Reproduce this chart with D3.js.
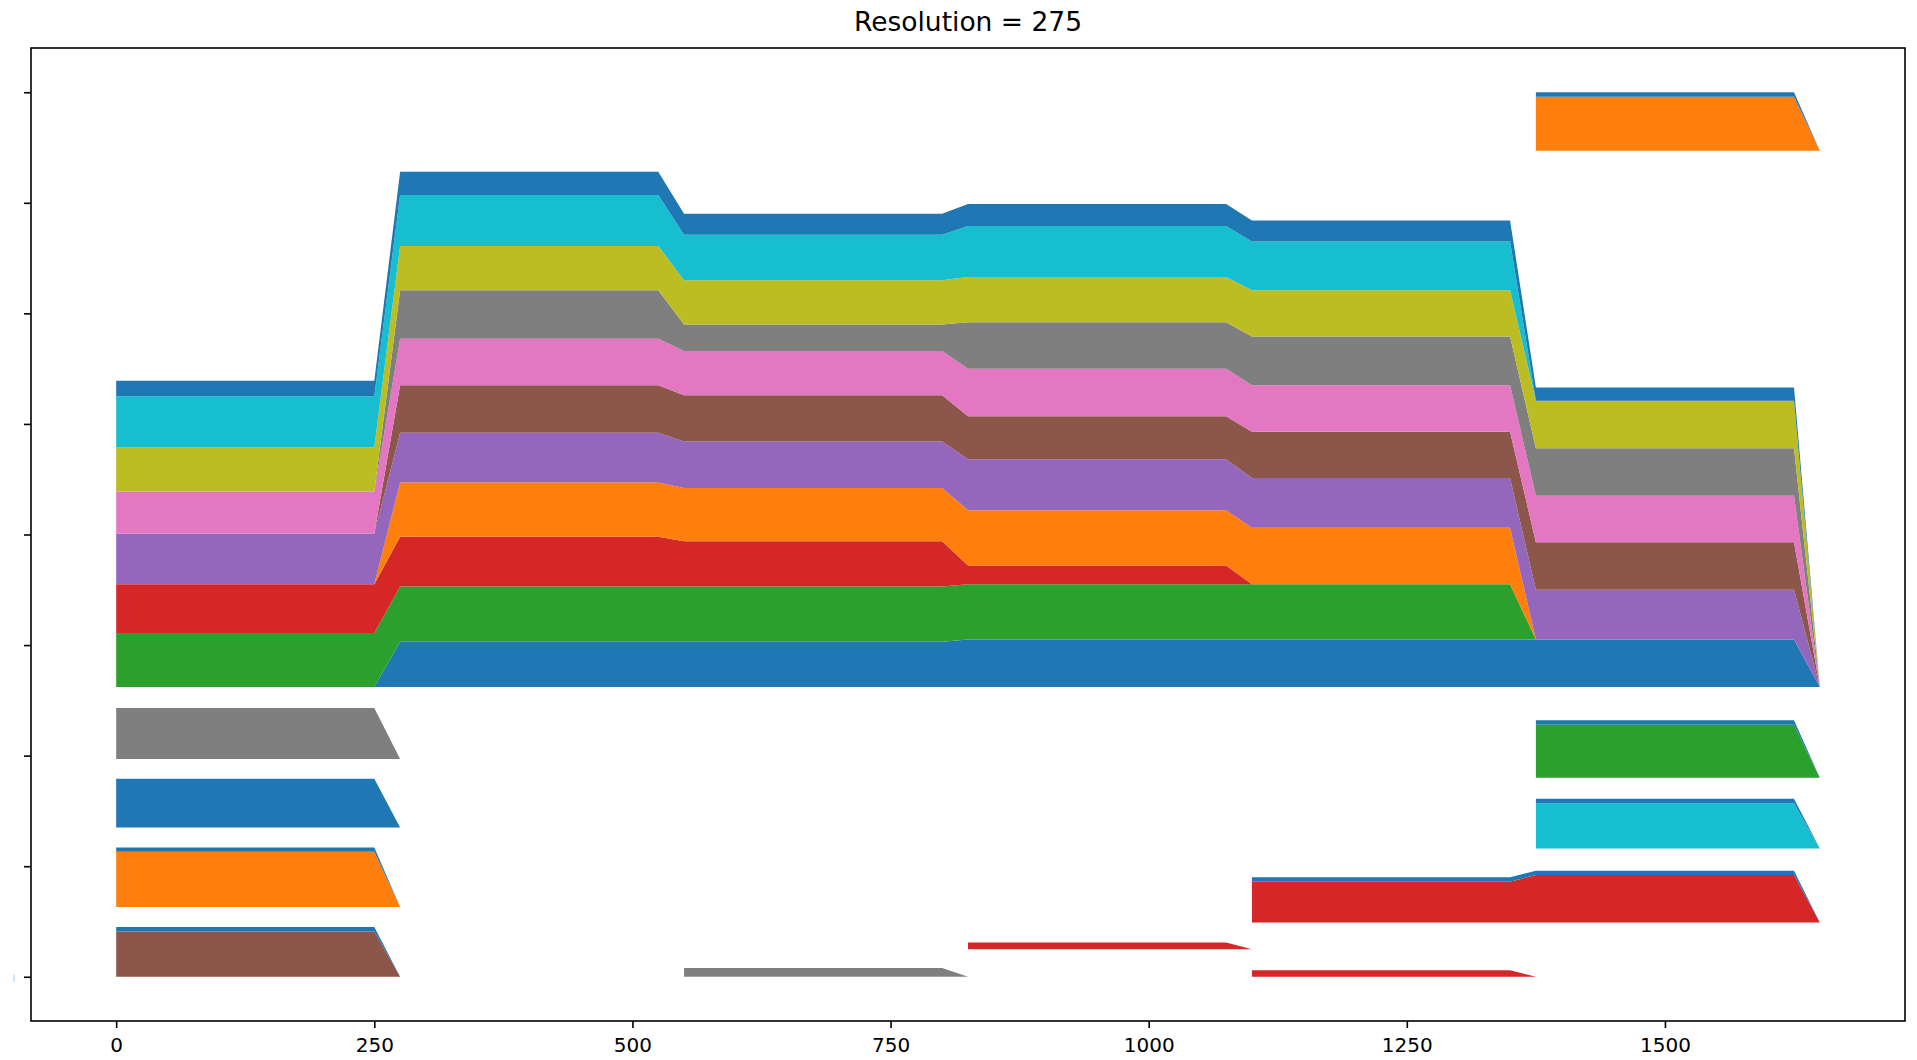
<!DOCTYPE html>
<html><head><meta charset="utf-8">
<script src="https://cdn.jsdelivr.net/npm/d3@7"></script>
<style>body{margin:0;background:#fff;} svg{display:block;}</style>
</head><body>
<svg id="chart" width="1917" height="1060"></svg>
<script>
// ---------- data ----------
const titleText = "Resolution = 275";
const xValues = [0, 250, 275, 525, 550, 800, 825, 1075, 1100, 1350, 1375, 1625, 1650];
const xTicks = [0, 250, 500, 750, 1000, 1250, 1500];
const yTicks = [0, 100, 200, 300, 400, 500, 600, 700, 800];
const yTickLabels = ["|", "", "", "", "", "", "", "", ""];

// main stack (baseline 262), bottom -> top
const mainBase = 262;
const mainBlue   = [0, 0, 41, 41, 41, 41, 43, 43, 43, 43, 43, 43, 0];
const mainGreen  = [49, 49, 50, 50, 50, 50, 50, 50, 50, 50, 0, 0, 0];
const mainRed    = [44, 44, 45, 45, 41, 41, 17, 17, 0, 0, 0, 0, 0];
const mainOrange = [0, 0, 49, 49, 48, 48, 50, 50, 51, 51, 0, 0, 0];
const mainPurple = [46, 46, 45, 45, 42, 42, 46, 46, 45, 45, 45, 45, 0];
const mainBrown  = [0, 0, 43, 43, 42, 42, 39, 39, 42, 42, 43, 43, 0];
const mainPink   = [38, 38, 42, 42, 40, 40, 43, 43, 42, 42, 42, 42, 0];
const mainGray   = [0, 0, 44, 44, 24, 24, 42, 42, 44, 44, 43, 43, 0];
const mainOlive  = [40, 40, 40, 40, 40, 40, 41, 41, 42, 42, 43, 43, 0];
const mainCyan   = [46, 46, 46, 46, 41, 41, 46, 46, 44, 44, 0, 0, 0];
const mainTop    = [14, 14, 21, 21, 19, 19, 20, 20, 19, 19, 12, 12, 0];

// small groups
const leftX = [0, 250, 275];
const leftBrownBase = 0;   const leftBrown = [41, 41, 0];  const leftBrownTop = [4, 4, 0];
const leftOrangeBase = 63; const leftOrange = [50, 50, 0]; const leftOrangeTop = [4, 4, 0];
const leftBlueBase = 135;  const leftBlue = [44, 44, 0];
const leftGrayBase = 197;  const leftGray = [46, 46, 0];

const midGrayX = [550, 800, 825];   const midGrayBase = 0;  const midGray = [8, 8, 0];
const midRedX = [825, 1075, 1100];  const midRedBase = 25;  const midRed = [6, 6, 0];
const lowRedX = [1100, 1350, 1375]; const lowRedBase = 0;   const lowRed = [6, 6, 0];

const redGroupX = [1100, 1350, 1375, 1625, 1650];
const redGroupBase = 49; const redGroup = [37, 37, 43, 43, 0]; const redGroupTop = [4, 4, 4, 4, 0];

const rightX = [1375, 1625, 1650];
const rightCyanBase = 116;   const rightCyan = [41, 41, 0];   const rightCyanTop = [4, 4, 0];
const rightGreenBase = 180;  const rightGreen = [48, 48, 0];  const rightGreenTop = [4, 4, 0];
const rightOrangeBase = 747; const rightOrange = [49, 49, 0]; const rightOrangeTop = [4, 4, 0];

// ---------- colours ----------
const C = ["#1f77b4","#ff7f0e","#2ca02c","#d62728","#9467bd","#8c564b","#e377c2","#7f7f7f","#bcbd22","#17becf"];

const groups = [
  {x: xValues, base: mainBase, layers: [
    [mainBlue, C[0]], [mainGreen, C[2]], [mainRed, C[3]], [mainOrange, C[1]], [mainPurple, C[4]],
    [mainBrown, C[5]], [mainPink, C[6]], [mainGray, C[7]], [mainOlive, C[8]], [mainCyan, C[9]], [mainTop, C[0]]]},
  {x: leftX, base: leftBrownBase, layers: [[leftBrown, C[5]], [leftBrownTop, C[0]]]},
  {x: leftX, base: leftOrangeBase, layers: [[leftOrange, C[1]], [leftOrangeTop, C[0]]]},
  {x: leftX, base: leftBlueBase, layers: [[leftBlue, C[0]]]},
  {x: leftX, base: leftGrayBase, layers: [[leftGray, C[7]]]},
  {x: midGrayX, base: midGrayBase, layers: [[midGray, C[7]]]},
  {x: midRedX, base: midRedBase, layers: [[midRed, C[3]]]},
  {x: lowRedX, base: lowRedBase, layers: [[lowRed, C[3]]]},
  {x: redGroupX, base: redGroupBase, layers: [[redGroup, C[3]], [redGroupTop, C[0]]]},
  {x: rightX, base: rightCyanBase, layers: [[rightCyan, C[9]], [rightCyanTop, C[0]]]},
  {x: rightX, base: rightGreenBase, layers: [[rightGreen, C[2]], [rightGreenTop, C[0]]]},
  {x: rightX, base: rightOrangeBase, layers: [[rightOrange, C[1]], [rightOrangeTop, C[0]]]},
];

// ---------- layout ----------
const L = 31, R = 1905, T = 48, B = 1021;
const xs = d3.scaleLinear().domain([-82.5, 1732.5]).range([L, R]);
const ys = d3.scaleLinear().domain([-40, 840]).range([B, T]);

const svg = d3.select("#chart");
const font = "'DejaVu Sans', sans-serif";

svg.append("defs").append("clipPath").attr("id","clip")
  .append("rect").attr("x", L).attr("y", T).attr("width", R - L).attr("height", B - T);

const plot = svg.append("g").attr("clip-path", "url(#clip)");

groups.forEach(g => {
  const cum = g.x.map(() => 0);
  g.layers.forEach(([vals, col]) => {
    const pts = g.x.map((xv, i) => {
      const lo = cum[i];
      const hi = cum[i] + vals[i];
      cum[i] = hi;
      return {x: xv, y0: g.base + lo, y1: g.base + hi};
    });
    const area = d3.area().x(d => xs(d.x)).y0(d => ys(d.y0)).y1(d => ys(d.y1));
    plot.append("path").attr("d", area(pts)).attr("fill", col).attr("stroke", "none");
  });
});

// axes
const xAxis = d3.axisBottom(xs).tickValues(xTicks).tickSize(7).tickPadding(10).tickFormat(d3.format("d"));
const gx = svg.append("g").attr("transform", `translate(0,${B})`).call(xAxis);
gx.select(".domain").remove();
gx.selectAll(".tick line").attr("stroke", "#000").attr("stroke-width", 1.6);
gx.selectAll(".tick text").attr("font-family", font).attr("font-size", 20).attr("fill", "#000");

const yAxis = d3.axisLeft(ys).tickValues(yTicks).tickSize(7).tickPadding(9)
  .tickFormat((d, i) => yTickLabels[i]);
const gy = svg.append("g").attr("transform", `translate(${L},0)`).call(yAxis);
gy.select(".domain").remove();
gy.selectAll(".tick line").attr("stroke", "#000").attr("stroke-width", 1.6);
gy.selectAll(".tick text").attr("font-family", font).attr("font-size", 7).attr("fill", "#999");

svg.append("rect").attr("x", L).attr("y", T).attr("width", R - L).attr("height", B - T)
  .attr("fill", "none").attr("stroke", "#000").attr("stroke-width", 1.6);

svg.append("text").attr("x", (L + R) / 2).attr("y", 31).attr("text-anchor", "middle")
  .attr("font-family", font).attr("font-size", 26.5).attr("fill", "#000").text(titleText);
</script>
</body></html>
